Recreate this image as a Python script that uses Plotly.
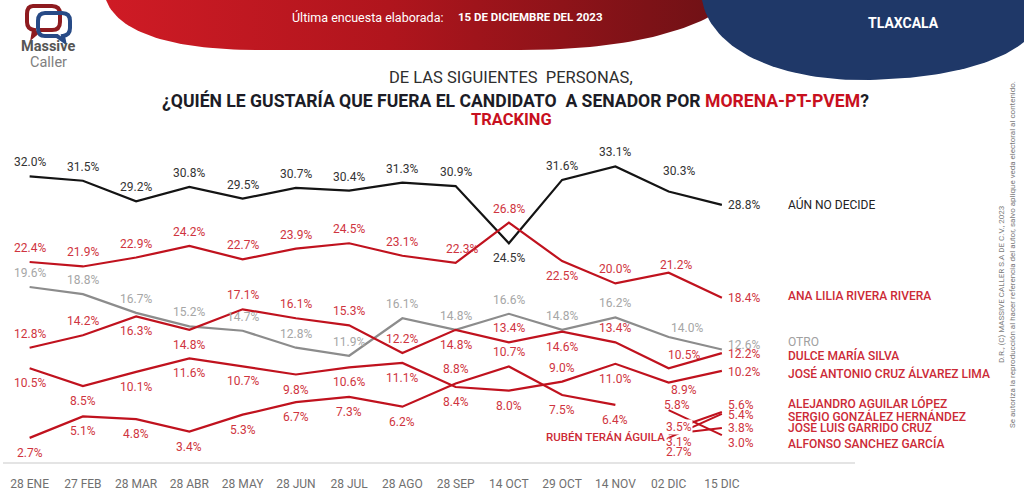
import numpy as np
import plotly.graph_objects as go

W, H = 1024, 494

# ---------------- data ----------------
dates = ["28 ENE", "27 FEB", "28 MAR", "28 ABR", "28 MAY", "28 JUN", "28 JUL",
         "28 AGO", "28 SEP", "14 OCT", "29 OCT", "14 NOV", "02 DIC", "15 DIC"]

aun_no_decide = [32.0, 31.5, 29.2, 30.8, 29.5, 30.7, 30.4, 31.3, 30.9, 24.5, 31.6, 33.1, 30.3, 28.8]
ana_lilia = [22.4, 21.9, 22.9, 24.2, 22.7, 23.9, 24.5, 23.1, 22.3, 26.8, 22.5, 20.0, 21.2, 18.4]
otro = [19.6, 18.8, 16.7, 15.2, 14.7, 12.8, 11.9, 16.1, 14.8, 16.6, 14.8, 16.2, 14.0, 12.6]
dulce = [12.8, 14.2, 16.3, 14.8, 17.1, 16.1, 15.3, 12.2, 14.8, 13.4, 14.6, 13.4, 10.5, 12.2]
jose_antonio = [10.5, 8.5, 10.1, 11.6, 10.7, 9.8, 10.6, 11.1, 8.4, 8.0, 9.0, 11.0, 8.9, 10.2]
ruben = [2.7, 5.1, 4.8, 3.4, 5.3, 6.7, 7.3, 6.2, 8.8, 10.7, 7.5, 6.4]
alejandro = [3.5, 5.6]
sergio = [2.7, 5.4]
jose_luis = [3.1, 3.8]
alfonso = [5.8, 3.0]

# ---------------- styles ----------------
BLACK, BLACK_T = "#141414", "#333333"
RED, RED_T = "#c0121e", "#cf3440"
GRAY, GRAY_T = "#8c8c8c", "#a6a6a6"
FONT = "Roboto"

# label placement per point: a = above, b = below, r = right of last point
pos_aun = ["a"] * 9 + ["b"] + ["a"] * 3 + ["r"]
pos_ana = ["a"] * 10 + ["b"] + ["a"] * 2 + ["r"]
pos_otro = ["a"] * 13 + ["r"]
pos_dulce = ["a", "a", "b", "b", "a", "a", "a", "a", "b", "a", "b", "a", "a", "r"]
pos_jose = ["b"] * 10 + ["a"] + ["b"] * 2 + ["r"]
pos_ruben = ["b"] * 8 + ["a", "a", "b", "b"]

# extra label nudges (dy, dx) in pixels for a few crowded points
nudge_aun = {12: (6, 10)}
nudge_ana = {8: (0, 6), 12: (-6, 7)}
nudge_otro = {12: (-5, 18), 13: (5, 0)}
nudge_dulce = {12: (-1, 15), 13: (-1, 0)}
nudge_jose = {12: (8, 15), 13: (-1, 0)}
nudge_ruben = {}

fig = go.Figure()

x_main = list(range(len(dates)))

series = [
    ("AÚN NO DECIDE", aun_no_decide, x_main, BLACK, BLACK_T, pos_aun, nudge_aun),
    ("ANA LILIA RIVERA RIVERA", ana_lilia, x_main, RED, RED_T, pos_ana, nudge_ana),
    ("OTRO", otro, x_main, GRAY, GRAY_T, pos_otro, nudge_otro),
    ("DULCE MARÍA SILVA", dulce, x_main, RED, RED_T, pos_dulce, nudge_dulce),
    ("JOSÉ ANTONIO CRUZ ÁLVAREZ LIMA", jose_antonio, x_main, RED, RED_T, pos_jose, nudge_jose),
    ("RUBÉN TERÁN ÁGUILA", ruben, x_main[:len(ruben)], RED, RED_T, pos_ruben, nudge_ruben),
]

annotations = []


def add_label(xv, yv, text, color, p, yextra=0, xextra=0):
    if p == "a":
        annotations.append(dict(x=xv, y=yv, xref="x", yref="y", text=text, showarrow=False,
                                yshift=14 + yextra, xshift=xextra,
                                font=dict(family=FONT, size=12, color=color)))
    elif p == "b":
        annotations.append(dict(x=xv, y=yv, xref="x", yref="y", text=text, showarrow=False,
                                yshift=-15 + yextra, xshift=xextra,
                                font=dict(family=FONT, size=12, color=color)))
    else:
        annotations.append(dict(x=xv, y=yv, xref="x", yref="y", text=text, showarrow=False,
                                xanchor="left", xshift=4 + xextra, yshift=yextra,
                                font=dict(family=FONT, size=12, color=color)))


for name, vals, xs, lc, tc, pos, nudge in series:
    fig.add_trace(go.Scatter(x=xs, y=vals, mode="lines", name=name,
                             line=dict(color=lc, width=2.2), hoverinfo="skip",
                             xaxis="x", yaxis="y"))
    for i, v in enumerate(vals):
        dy, dx = nudge.get(i, (0, 0))
        add_label(xs[i], v, f"{v:.1f}%", tc, pos[i], yextra=dy, xextra=dx)

# short two-point series (02 DIC -> 15 DIC)
short = [
    ("SERGIO GONZÁLEZ HERNÁNDEZ", sergio, (-14, 10), (-1, 0), False),
    ("JOSÉ LUIS GARRIDO CRUZ", jose_luis, (-8, 10), (0, 0), False),
    ("ALFONSO SANCHEZ GARCÍA", alfonso, (5, 8), (-8, 0), False),
    ("ALEJANDRO AGUILAR LÓPEZ", alejandro, (4, 10), (7, 0), True),
]
for name, vals, (dy0, dx0), (dy1, dx1), bg in short:
    fig.add_trace(go.Scatter(x=[12, 13], y=vals, mode="lines", name=name,
                             line=dict(color=RED, width=2), hoverinfo="skip",
                             xaxis="x", yaxis="y"))
    annotations.append(dict(x=12, y=vals[0], xref="x", yref="y", text=f"{vals[0]:.1f}%",
                            showarrow=False, yshift=dy0, xshift=dx0,
                            bgcolor="white" if bg else None, borderpad=0,
                            font=dict(family=FONT, size=12, color=RED_T)))
    annotations.append(dict(x=13, y=vals[1], xref="x", yref="y", text=f"{vals[1]:.1f}%",
                            showarrow=False, xanchor="left", xshift=4, yshift=dy1,
                            font=dict(family=FONT, size=12, color=RED_T)))

# ---------------- header shapes (pixel axes x2/y2) ----------------

def bez(p0, p1, p2, p3, n=40):
    t = np.linspace(0, 1, n)
    x = (1 - t) ** 3 * p0[0] + 3 * (1 - t) ** 2 * t * p1[0] + 3 * (1 - t) * t ** 2 * p2[0] + t ** 3 * p3[0]
    y = (1 - t) ** 3 * p0[1] + 3 * (1 - t) ** 2 * t * p1[1] + 3 * (1 - t) * t ** 2 * p2[1] + t ** 3 * p3[1]
    return list(x), list(y)

rx1, ry1 = bez((106, 0), (118, 32), (170, 50), (260, 50))
rx2, ry2 = bez((520, 50), (630, 50), (700, 30), (735, 0))
red_x = rx1 + rx2 + [106]
red_y = ry1 + ry2 + [0]
fig.add_trace(go.Scatter(x=red_x, y=red_y, mode="lines", fill="toself",
                         line=dict(width=0, color="rgba(0,0,0,0)"),
                         fillgradient=dict(type="horizontal",
                                           colorscale=[[0, "#cf1b25"], [0.45, "#b0151d"], [1, "#6c1115"]]),
                         hoverinfo="skip", xaxis="x2", yaxis="y2", showlegend=False))

bx1, by1 = bez((702, 0), (712, 55), (790, 82), (870, 80))
bx2, by2 = bez((870, 80), (950, 78), (1000, 62), (1024, 42))
blue_x = bx1 + bx2 + [1024, 702]
blue_y = by1 + by2 + [0, 0]
fig.add_trace(go.Scatter(x=blue_x, y=blue_y, mode="lines", fill="toself",
                         line=dict(width=0, color="rgba(0,0,0,0)"), fillcolor="#1f3868",
                         hoverinfo="skip", xaxis="x2", yaxis="y2", showlegend=False))

shapes = [
    # logo bubbles
    dict(type="path", xref="x2", yref="y2",
         path="M 33,6 L 52,6 Q 60,6 60,14 L 60,22 Q 60,30 52,30 L 40,30 L 33,36 L 34,30 Q 27,29 27,22 L 27,14 Q 27,6 33,6 Z",
         line=dict(color="#8e1b1f", width=4), fillcolor="rgba(0,0,0,0)"),
    dict(type="path", xref="x2", yref="y2",
         path="M 45,13 L 62,13 Q 70,13 70,21 L 70,28 Q 70,35 63,36 L 64,41 L 57,36 L 45,36 Q 38,36 38,28 L 38,21 Q 38,13 45,13 Z",
         line=dict(color="#274a86", width=4), fillcolor="rgba(0,0,0,0)"),
]

def txt(x, y, text, size, color, bold=False, xanchor="center", family=FONT, **kw):
    t = f"<b>{text}</b>" if bold else text
    annotations.append(dict(x=x, y=y, xref="x2", yref="y2", text=t, showarrow=False,
                            xanchor=xanchor, yanchor="middle",
                            font=dict(family=family, size=size, color=color), **kw))

txt(48, 46, "Massive", 14.5, "#555555", bold=True)
txt(48, 62, "Caller", 14.5, "#808080")
txt(367, 17, "Última encuesta elaborada:", 12.5, "#ffffff")
txt(530, 17, "15 DE DICIEMBRE DEL 2023", 11.5, "#ffffff", bold=True)
txt(903, 23, "TLAXCALA", 14, "#ffffff", bold=True)

txt(511, 77, "DE LAS SIGUIENTES  PERSONAS,", 16.5, "#2e2e2e")
txt(515, 100, "¿QUIÉN LE GUSTARÍA QUE FUERA EL CANDIDATO  A SENADOR POR "
              "<span style='color:#c8101e'>MORENA-PT-PVEM</span>?", 17.6, "#1c1c26", bold=True)
txt(511, 119, "TRACKING", 16.5, "#c8101e", bold=True)

# series names at right
names = [
    ("AÚN NO DECIDE", 204, "#222222", False),
    ("ANA LILIA RIVERA RIVERA", 296, "#cc2a36", True),
    ("OTRO", 342, "#a0a0a0", False),
    ("DULCE MARÍA SILVA", 355, "#cc2a36", True),
    ("JOSÉ ANTONIO CRUZ ÁLVAREZ LIMA", 373, "#cc2a36", True),
    ("ALEJANDRO AGUILAR LÓPEZ", 403, "#cc2a36", True),
    ("SERGIO GONZÁLEZ HERNÁNDEZ", 416, "#cc2a36", True),
    ("JOSÉ LUIS GARRIDO CRUZ", 427, "#cc2a36", True),
    ("ALFONSO SANCHEZ GARCÍA", 443, "#cc2a36", True),
]
for n, y, c, b in names:
    annotations.append(dict(x=786, y=y, xref="x2", yref="y2", text=n, showarrow=False,
                            xanchor="left", yanchor="middle",
                            font=dict(family=FONT, size=12, color=c,
                                      weight=500 if b else 400)))
annotations.append(dict(x=605, y=437, xref="x2", yref="y2", text="RUBÉN TERÁN ÁGUILA",
                        showarrow=False, xanchor="center", yanchor="middle",
                        font=dict(family=FONT, size=11.5, color="#cc2a36", weight=500)))

# vertical legal text
annotations.append(dict(x=1001, y=285, xref="x2", yref="y2",
                        text="D.R., (C) MASSIVE CALLER S.A DE C.V., 2023",
                        showarrow=False, textangle=-90,
                        font=dict(family=FONT, size=8, color="#7a7a7a")))
annotations.append(dict(x=1012, y=255, xref="x2", yref="y2",
                        text="Se autoriza la reproducción al hacer referencia del autor, salvo aplique veda electoral al contenido.",
                        showarrow=False, textangle=-90,
                        font=dict(family=FONT, size=8, color="#7a7a7a")))

x0_px, x1_px = 3, 855
ybot_px, ytop_px = 462, 149.5

fig.update_layout(
    width=W, height=H,
    margin=dict(l=0, r=0, t=0, b=0),
    paper_bgcolor="white", plot_bgcolor="rgba(0,0,0,0)",
    showlegend=False,
    xaxis=dict(domain=[x0_px / W, x1_px / W], range=[-0.5, 15.5],
               tickvals=x_main, ticktext=dates, showgrid=False, zeroline=False,
               showline=True, linecolor="#e4e4e4", linewidth=1.5,
               ticks="", ticklabelstandoff=10,
               tickfont=dict(family=FONT, size=12, color="#707070"),
               anchor="y", fixedrange=True),
    yaxis=dict(domain=[1 - ybot_px / H, 1 - ytop_px / H], range=[0, 35],
               visible=False, fixedrange=True, anchor="x"),
    xaxis2=dict(domain=[0, 1], range=[0, W], visible=False, anchor="y2", fixedrange=True),
    yaxis2=dict(domain=[0, 1], range=[H, 0], visible=False, anchor="x2", fixedrange=True),
    shapes=shapes,
    annotations=annotations,
)

fig.write_html("out.html")
